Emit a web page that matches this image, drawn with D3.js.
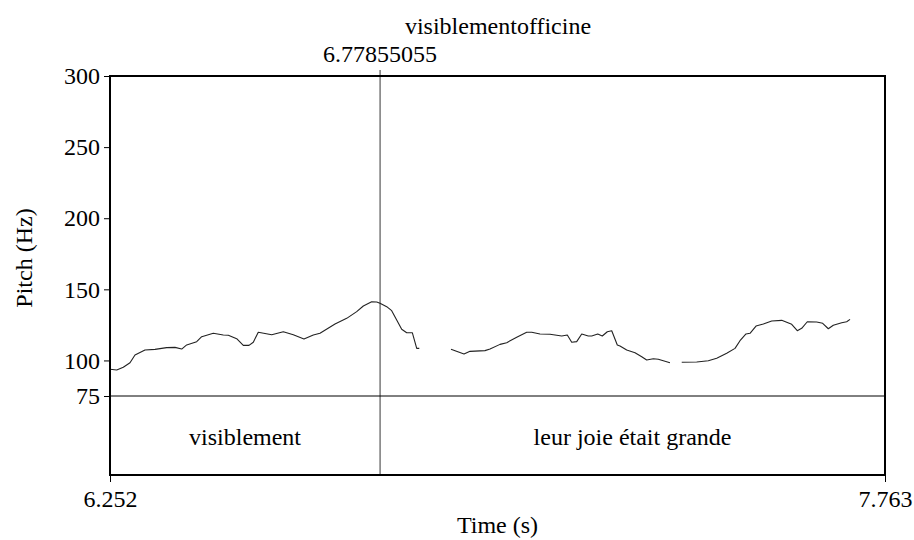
<!DOCTYPE html>
<html>
<head>
<meta charset="utf-8">
<script src="https://cdn.jsdelivr.net/npm/d3@7"></script>
<style>
  body { margin: 0; background: #fff; }
  svg text { font-family: "Liberation Serif", "Times New Roman", Times, serif; fill: #000; }
</style>
</head>
<body>
<svg id="chart" width="914" height="540"></svg>
<script>
// pitch contour, one array per voiced stretch: [time (s), pitch (Hz)]
var seg1 = [
  [6.2520, 93.8], [6.2651, 93.3], [6.2779, 95.2], [6.2910, 98.4], [6.3007, 103.8],
  [6.3202, 107.3], [6.3397, 107.8], [6.3625, 109.0], [6.3787, 109.2], [6.3918, 108.0],
  [6.4015, 110.9], [6.4210, 113.2], [6.4308, 116.7], [6.4534, 119.1], [6.4729, 117.9],
  [6.4827, 117.7], [6.4990, 115.3], [6.5119, 110.6], [6.5230, 110.6], [6.5314, 112.8],
  [6.5411, 119.8], [6.5673, 118.1], [6.5899, 120.2], [6.6094, 118.1], [6.6302, 115.1],
  [6.6484, 117.9], [6.6614, 119.1], [6.6907, 125.6], [6.7135, 129.6], [6.7330, 134.3],
  [6.7459, 138.3], [6.7622, 141.3], [6.7720, 141.1], [6.7784, 140.2], [6.7915, 137.8],
  [6.8012, 135.0], [6.8207, 121.9], [6.8305, 119.5], [6.8414, 119.5], [6.8500, 108.5],
  [6.8550, 108.5]
];
var seg2 = [
  [6.9168, 107.8], [6.9422, 104.5], [6.9539, 106.4], [6.9831, 106.9], [6.9929, 108.0],
  [7.0124, 111.3], [7.0255, 112.5], [7.0450, 116.3], [7.0644, 119.8], [7.0742, 119.8],
  [7.0904, 118.6], [7.1099, 118.4], [7.1327, 117.2], [7.1436, 117.9], [7.1522, 112.8],
  [7.1619, 113.2], [7.1717, 118.6], [7.1845, 117.2], [7.1912, 117.2], [7.2029, 118.6],
  [7.2118, 117.2], [7.2216, 120.2], [7.2302, 120.9], [7.2411, 110.9], [7.2463, 110.2],
  [7.2594, 107.3], [7.2756, 105.4], [7.2887, 102.6], [7.2984, 100.3], [7.3113, 101.2],
  [7.3210, 100.8], [7.3438, 98.4]
];
var seg3 = [
  [7.3667, 98.7], [7.3959, 98.9], [7.4185, 99.8], [7.4349, 101.5], [7.4544, 105.0],
  [7.4706, 108.5], [7.4803, 113.9], [7.4920, 118.6], [7.4998, 119.1], [7.5115, 124.2],
  [7.5258, 125.6], [7.5421, 127.7], [7.5616, 128.2], [7.5811, 125.4], [7.5920, 120.9],
  [7.6006, 122.6], [7.6115, 127.2], [7.6298, 127.0], [7.6415, 126.1], [7.6525, 122.3],
  [7.6622, 124.7], [7.6786, 126.5], [7.6883, 127.2], [7.6948, 128.9]
];
var segments = [seg1, seg2, seg3];

var pitchTicks = [75, 100, 150, 200, 250, 300];
var timeRange = [6.252, 7.763];
var timeTickLabels = ["6.252", "7.763"];
var boundary = 6.77855055;
var boundaryLabel = "6.77855055";
var tierName = "visiblementofficine";
var intervals = [
  { start: 6.252, end: 6.77855055, text: "visiblement" },
  { start: 6.77855055, end: 7.763, text: "leur joie était grande" }
];

var svg = d3.select("#chart");
var plotLeft = 110, plotRight = 885, plotTop = 76, pitchBottom = 396, tierBottom = 475;
var serif = '"Liberation Serif", "Times New Roman", Times, serif';
var fs = "24px";

var x = d3.scaleLinear().domain(timeRange).range([plotLeft, plotRight]);
var y = d3.scaleLinear().domain([75, 300]).range([pitchBottom, plotTop]);

// pitch axis ticks + labels
var yAxis = svg.append("g").attr("transform", "translate(" + plotLeft + ",0)")
  .call(d3.axisLeft(y).tickValues(pitchTicks).tickSize(6).tickPadding(4).tickFormat(d3.format("d")));
yAxis.attr("font-family", null).attr("font-size", null);
yAxis.select(".domain").remove();
yAxis.selectAll("line").attr("stroke", "#000");
yAxis.selectAll("text").style("font-size", fs).style("font-family", serif);

// 75 Hz separator between pitch and tier
svg.append("line")
  .attr("x1", plotLeft).attr("x2", plotRight)
  .attr("y1", y(75)).attr("y2", y(75))
  .attr("stroke", "#000").attr("stroke-width", 1);

// boundary line (through pitch + tier) and its top tick
svg.append("line")
  .attr("x1", x(boundary)).attr("x2", x(boundary))
  .attr("y1", plotTop - 6).attr("y2", tierBottom)
  .attr("stroke", "#000").attr("stroke-width", 0.8);

// pitch contour
var line = d3.line().x(d => x(d[0])).y(d => y(d[1]));
svg.append("g").selectAll("path")
  .data(segments)
  .enter().append("path")
  .attr("d", line)
  .attr("fill", "none")
  .attr("stroke", "#222")
  .attr("stroke-width", 1.1)
  .attr("stroke-linejoin", "round");

// frame
svg.append("rect")
  .attr("x", plotLeft).attr("y", plotTop)
  .attr("width", plotRight - plotLeft).attr("height", tierBottom - plotTop)
  .attr("fill", "none").attr("stroke", "#000").attr("stroke-width", 2);

// interval texts
svg.selectAll(".ilabel")
  .data(intervals)
  .enter().append("text")
  .attr("class", "ilabel")
  .attr("x", d => (x(d.start) + x(d.end)) / 2)
  .attr("y", 445)
  .attr("text-anchor", "middle")
  .style("font-size", fs)
  .style("font-family", serif)
  .text(d => d.text);

// time axis
var xAxis = svg.append("g").attr("transform", "translate(0," + tierBottom + ")")
  .call(d3.axisBottom(x).tickValues(timeRange).tickSize(7).tickPadding(8)
    .tickFormat((d, i) => timeTickLabels[i]));
xAxis.attr("font-family", null).attr("font-size", null);
xAxis.select(".domain").remove();
xAxis.selectAll("line").attr("stroke", "#000");
xAxis.selectAll("text").style("font-size", fs).style("font-family", serif);

// top labels
svg.append("text")
  .attr("x", x(boundary)).attr("y", 62)
  .attr("text-anchor", "middle")
  .style("font-size", fs)
  .style("font-family", serif)
  .text(boundaryLabel);
svg.append("text")
  .attr("x", 498).attr("y", 34)
  .attr("text-anchor", "middle")
  .style("font-size", fs)
  .style("font-family", serif)
  .text(tierName);

// axis titles
svg.append("text")
  .attr("x", (plotLeft + plotRight) / 2).attr("y", 533)
  .attr("text-anchor", "middle")
  .style("font-size", fs)
  .style("font-family", serif)
  .text("Time (s)");
svg.append("text")
  .attr("transform", "translate(32," + ((plotTop + pitchBottom) / 2 + 22) + ") rotate(-90)")
  .attr("text-anchor", "middle")
  .style("font-size", fs)
  .style("font-family", serif)
  .text("Pitch (Hz)");
</script>
</body>
</html>
